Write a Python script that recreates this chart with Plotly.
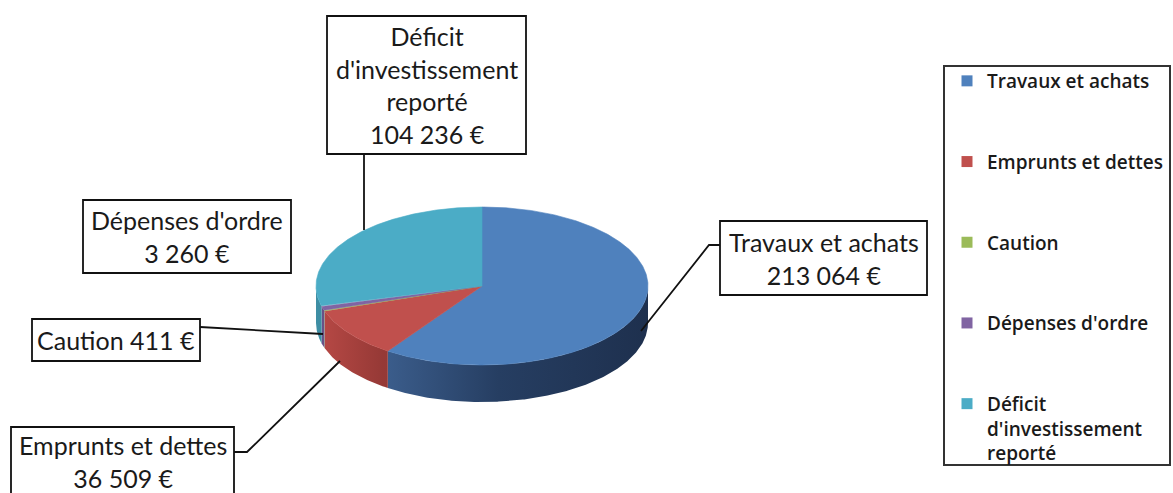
import numpy as np
import plotly.graph_objects as go

# ---- data ----
categories = ["Travaux et achats", "Emprunts et dettes", "Caution",
              "Dépenses d'ordre", "Déficit d'investissement reporté"]
legend_names = ["Travaux et achats", "Emprunts et dettes", "Caution",
                "Dépenses d'ordre", "Déficit<br>d'investissement<br>reporté"]
values = [213064, 36509, 411, 3260, 104236]
value_labels = ["213 064 €", "36 509 €", "411 €", "3 260 €", "104 236 €"]
colors = ["#4F81BD", "#C0504D", "#9BBB59", "#8064A2", "#4BACC6"]
side_scales = [
    [[0, "rgb(72,112,165)"], [0.55, "rgb(38,62,98)"], [1, "rgb(30,48,78)"]],
    [[0, "rgb(185,74,70)"], [0.2, "rgb(150,57,54)"], [1, "rgb(120,45,42)"]],
    [[0, "rgb(125,150,70)"], [1, "rgb(90,110,50)"]],
    [[0, "rgb(105,82,135)"], [1, "rgb(80,62,105)"]],
    [[0, "rgb(62,142,164)"], [1, "rgb(45,105,122)"]],
]

# ---- pie geometry (pixel space) ----
W, H = 1173, 493
CX, CY, RX, RY, DEPTH = 482, 286, 166, 79, 37
FONT = "Lato"
TXT = "#1a1a1a"

total = float(sum(values))
bounds = np.concatenate([[0], np.cumsum(values) / total * 360.0])


def arc(a, b, dy=0.0, n=None):
    if n is None:
        n = max(3, int(abs(b - a) * 2) + 2)
    t = np.radians(np.linspace(a, b, n))
    return CX + RX * np.sin(t), CY - RY * np.cos(t) + dy


fig = go.Figure()

# side walls (front half only: angles 90..270)
for i in range(len(values)):
    s, e = max(bounds[i], 90), min(bounds[i + 1], 270)
    if s >= e:
        continue
    xt, yt = arc(s, e)
    xb, yb = arc(e, s, DEPTH)
    xs = np.concatenate([xt, xb, xt[:1]])
    ys = np.concatenate([yt, yb, yt[:1]])
    fig.add_trace(go.Scatter(
        x=xs, y=ys, mode="lines", fill="toself",
        fillcolor=side_scales[i][0][1],
        fillgradient=dict(type="horizontal", colorscale=side_scales[i],
                          start=CX - RX, stop=CX + RX),
        line=dict(width=0), hoverinfo="skip", showlegend=False))

# top faces
for i in range(len(values)):
    xa, ya = arc(bounds[i], bounds[i + 1])
    xs = np.concatenate([[CX], xa, [CX]])
    ys = np.concatenate([[CY], ya, [CY]])
    fig.add_trace(go.Scatter(
        x=xs, y=ys, mode="lines", fill="toself", fillcolor=colors[i],
        line=dict(width=0.6, color=colors[i]),
        name=categories[i], text=[f"{categories[i]} {value_labels[i]}"] * len(xs),
        hoverinfo="text", showlegend=False))

# legend entries
for i in range(len(values)):
    fig.add_trace(go.Scatter(
        x=[None], y=[None], mode="markers",
        marker=dict(symbol="square", size=11, color=colors[i]),
        name=legend_names[i], legendgroup=str(i), showlegend=True))

# ---- data label boxes ----
label_boxes = [
    # (x0, y0, x1, y1, text)
    (720, 221, 927, 295, f"{categories[0]}<br>{value_labels[0]}"),
    (11, 427, 234, 512, f"{categories[1]}<br>{value_labels[1]}"),
    (32, 319, 200, 361, f"{categories[2]} {value_labels[2]}"),
    (83, 200, 291, 273, f"{categories[3]}<br>{value_labels[3]}"),
    (327, 16, 526, 154, f"Déficit<br>d'investissement<br>reporté<br>{value_labels[4]}"),
]
leaders = [
    "M 720 245 L 709 245 L 641 331",
    "M 234 452 L 247 452 L 340 361",
    "M 200 327 L 323 334",
    None,
    "M 364 154 L 364 230",
]

shapes = []
annotations = []
for (x0, y0, x1, y1, txt), path in zip(label_boxes, leaders):
    shapes.append(dict(type="rect", xref="x", yref="y", x0=x0, y0=y0, x1=x1, y1=y1,
                       line=dict(color="#111", width=1.8), fillcolor="white",
                       layer="above"))
    if path:
        shapes.append(dict(type="path", xref="x", yref="y", path=path,
                           line=dict(color="#111", width=1.8), layer="above"))
    yc = (y0 + 496) / 2 if y1 > H else (y0 + y1) / 2
    annotations.append(dict(x=(x0 + x1) / 2, y=yc,
                            xref="x", yref="y", text=txt, showarrow=False,
                            font=dict(family=FONT, size=25, color=TXT),
                            align="center", xanchor="center", yanchor="middle"))

# legend frame
shapes.append(dict(type="rect", xref="x", yref="y", x0=944, y0=66, x1=1170, y1=465,
                   line=dict(color="#333", width=2), layer="above"))

fig.update_layout(
    width=W, height=H,
    margin=dict(l=0, r=0, t=0, b=0),
    paper_bgcolor="white", plot_bgcolor="white",
    xaxis=dict(range=[0, W], visible=False, fixedrange=True),
    yaxis=dict(range=[H, 0], visible=False, fixedrange=True),
    shapes=shapes, annotations=annotations,
    showlegend=True,
    legend=dict(x=947 / W, y=1 - 62 / H, xanchor="left", yanchor="top",
                bgcolor="rgba(0,0,0,0)", borderwidth=0,
                font=dict(family="Open Sans", size=19, color=TXT, weight=600),
                tracegroupgap=53, itemwidth=30, valign="top"),
)

fig.write_html("out.html", config={"displayModeBar": False})

# remove the default page margin so the figure starts at the window corner
with open("out.html", encoding="utf-8") as f:
    html = f.read()
html = html.replace("<head>", "<head><style>html,body{margin:0;padding:0;overflow:hidden}</style>", 1)
with open("out.html", "w", encoding="utf-8") as f:
    f.write(html)
